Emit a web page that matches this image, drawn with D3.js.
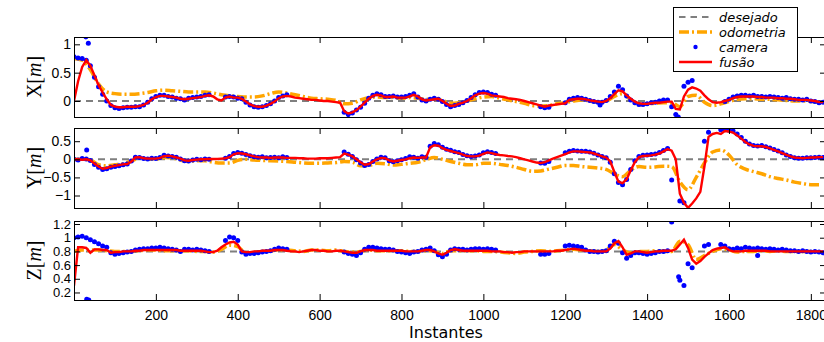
<!DOCTYPE html>
<html>
<head>
<meta charset="utf-8">
<script src="https://cdnjs.cloudflare.com/ajax/libs/d3/7.8.5/d3.min.js"></script>
<style>
  body { margin: 0; background: #fff; }
  svg { display: block; }
  .tick text { font-family: "Liberation Sans", Arial, sans-serif; font-size: 14px; fill: #000; }
  .yz .tick text { font-size: 13px; }
</style>
</head>
<body>
<script>
//////////////////////////////////////////////////////////////////////////////
// Data
// fusao / camera : one value every 10 instants (null = no camera frame)
// odometria      : one value every 20 instants
const _ = null;

let fusaoX = [
  0.0, 0.35, 0.6, 0.72, 0.62, 0.45, 0.28, 0.15, 0.03, -0.07,
  -0.1, -0.11, -0.11, -0.1, -0.1, -0.1, -0.09, -0.07, -0.03, 0.03,
  0.07, 0.09, 0.09, 0.08, 0.07, 0.06, 0.04, 0.03, 0.04, 0.05,
  0.06, 0.07, 0.09, 0.1, 0.08, 0.03, 0.01, 0.06, 0.08, 0.06,
  0.06, 0.04, -0.01, -0.06, -0.09, -0.1, -0.1, -0.08, -0.05, -0.01,
  0.05, 0.08, 0.09, 0.08, 0.06, 0.05, 0.04, 0.03, 0.02, 0.02,
  0.01, 0.0, 0.0, -0.01, -0.02, -0.03, -0.18, -0.22, -0.2, -0.16,
  -0.1, -0.03, 0.04, 0.09, 0.11, 0.1, 0.07, 0.07, 0.08, 0.06,
  0.06, 0.06, 0.08, 0.11, 0.08, 0.03, 0.01, 0.02, 0.03, 0.04,
  0.0, -0.05, -0.09, -0.08, -0.05, -0.03, 0.0, 0.05, 0.1, 0.13,
  0.14, 0.13, 0.1, 0.09, 0.08, 0.07, 0.05, 0.04, 0.03, 0.02,
  0.0, -0.02, -0.04, -0.06, -0.08, -0.1, -0.08, -0.07, -0.06, -0.05,
  -0.04, 0.02, 0.03, 0.04, 0.04, 0.03, 0.01, 0.0, -0.01, -0.02,
  0.0, 0.05, 0.12, 0.19, 0.17, 0.1, 0.04, -0.01, -0.04, -0.05,
  -0.05, -0.04, -0.03, -0.03, -0.02, -0.01, -0.01, -0.14, -0.15, 0.08,
  0.2, 0.24, 0.22, 0.18, 0.1, 0.03, -0.02, -0.03, -0.02, 0.0,
  0.02, 0.05, 0.07, 0.08, 0.08, 0.08, 0.08, 0.07, 0.07, 0.06,
  0.06, 0.06, 0.05, 0.05, 0.04, 0.04, 0.03, 0.02, 0.02, 0.02,
  0.01, 0.0, -0.02, -0.02
];
let cameraX = [
  0.78, 0.76, 0.75, 0.72, 0.62, 0.42, 0.25, 0.12, 0.0, -0.08,
  -0.12, -0.13, -0.12, -0.11, -0.11, -0.1, -0.1, -0.07, -0.02, 0.04,
  0.08, 0.1, 0.1, 0.08, 0.07, 0.05, 0.04, 0.02, 0.05, 0.06,
  0.07, 0.08, 0.1, 0.11, _, _, _, 0.07, 0.08, 0.07,
  0.05, 0.04, -0.02, -0.07, -0.1, -0.11, -0.1, -0.08, -0.05, 0.0,
  0.06, 0.09, 0.11, _, _, _, _, _, _, _,
  _, _, _, _, _, _, -0.2, -0.24, -0.21, -0.16,
  -0.11, -0.04, 0.05, 0.1, 0.13, 0.11, 0.08, 0.08, 0.09, 0.07,
  0.07, 0.08, 0.1, 0.13, 0.07, 0.02, 0.0, 0.03, 0.05, 0.03,
  -0.01, -0.06, -0.1, -0.08, -0.06, -0.03, 0.01, 0.06, 0.11, 0.15,
  0.16, 0.15, 0.12, 0.1, _, _, _, _, _, _,
  _, _, _, _, -0.1, -0.12, -0.11, _, _, _,
  -0.03, 0.03, 0.05, 0.06, 0.05, 0.03, 0.01, -0.01, -0.02, -0.02,
  0.01, 0.08, 0.16, 0.26, 0.2, 0.09, 0.02, -0.03, -0.06, -0.06,
  -0.05, -0.03, -0.02, 0.0, 0.02, 0.02, -0.1, -0.24, _, 0.26,
  0.33, 0.36, _, _, _, _, _, _, _, -0.01,
  0.03, 0.07, 0.09, 0.1, 0.1, 0.09, 0.1, 0.08, 0.08, 0.07,
  0.08, 0.07, 0.06, 0.05, 0.06, 0.04, 0.03, 0.03, 0.02, 0.03,
  0.0, -0.01, -0.03, -0.02
];
let cameraOutliersX = [[29, 1.13], [35, 1.02], [1476, -0.28], [1285, -0.07]];
let odometriaX = [
  0.75, 0.72, 0.55, 0.3, 0.16, 0.13, 0.12, 0.12, 0.13, 0.15,
  0.18, 0.19, 0.18, 0.17, 0.16, 0.16, 0.16, 0.14, 0.11, 0.09,
  0.08, 0.07, 0.07, 0.09, 0.13, 0.16, 0.14, 0.11, 0.08, 0.05,
  0.04, 0.03, 0.01, -0.05, -0.04, 0.02, 0.06, 0.07, 0.06, 0.06,
  0.05, 0.06, 0.05, 0.03, 0.03, 0.01, -0.04, -0.03, 0.0, 0.04,
  0.07, 0.08, 0.05, 0.02, -0.01, -0.04, -0.08, -0.09, -0.08, -0.05,
  -0.03, 0.0, 0.02, 0.0, -0.02, 0.0, 0.08, 0.13, 0.02, -0.07,
  -0.05, -0.04, -0.03, -0.03, -0.1, 0.08, 0.1, -0.02, -0.08, -0.05,
  -0.01, 0.03, 0.04, 0.04, 0.03, 0.03, 0.02, 0.01, 0.0, 0.0,
  -0.01, -0.02
];

let fusaoY = [
  0.0, 0.0, -0.01, 0.0, -0.03, -0.12, -0.2, -0.26, -0.24, -0.2,
  -0.18, -0.16, -0.14, -0.13, -0.06, 0.05, 0.06, 0.03, 0.02, 0.02,
  0.02, 0.04, 0.09, 0.1, 0.08, 0.05, 0.02, -0.03, -0.04, -0.02,
  -0.01, 0.0, 0.0, 0.01, 0.01, 0.01, 0.02, 0.03, 0.06, 0.14,
  0.17, 0.16, 0.14, 0.11, 0.08, 0.06, 0.05, 0.05, 0.04, 0.05,
  0.05, 0.05, 0.04, 0.04, 0.04, 0.03, 0.03, 0.02, 0.02, 0.02,
  0.03, 0.03, 0.03, 0.04, 0.05, 0.06, 0.16, 0.13, 0.08, 0.0,
  -0.08, -0.15, -0.13, -0.06, 0.0, 0.04, 0.03, -0.03, -0.06, -0.04,
  -0.02, 0.0, 0.03, 0.05, 0.04, 0.05, 0.05, 0.33, 0.39, 0.38,
  0.31, 0.26, 0.23, 0.2, 0.17, 0.13, 0.09, 0.08, 0.08, 0.1,
  0.15, 0.19, 0.17, 0.14, 0.12, 0.11, 0.09, 0.08, 0.06, 0.03,
  0.0, -0.03, -0.06, -0.09, -0.1, -0.08, -0.03, 0.02, 0.06, 0.1,
  0.14, 0.19, 0.22, 0.22, 0.21, 0.2, 0.19, 0.16, 0.12, 0.08,
  0.05, -0.06, -0.35, -0.62, -0.66, -0.55, -0.3, -0.08, 0.06, 0.09,
  0.1, 0.11, 0.13, 0.16, 0.22, 0.28, 0.24, 0.0, -0.95, -1.2,
  -1.34, -1.22, -1.08, -0.9, -0.2, 0.62, 0.7, 0.73, 0.7, 0.78,
  0.77, 0.74, 0.66, 0.57, 0.48, 0.41, 0.37, 0.36, 0.36, 0.34,
  0.3, 0.26, 0.22, 0.17, 0.12, 0.08, 0.05, 0.04, 0.03, 0.04,
  0.05, 0.05, 0.06, 0.06
];
let cameraY = [
  0.0, -0.02, 0.02, 0.01, -0.03, -0.14, -0.22, -0.28, -0.26, -0.22,
  -0.2, -0.18, -0.15, -0.13, -0.05, 0.06, 0.05, 0.02, 0.01, 0.03,
  0.02, 0.05, 0.11, 0.09, 0.08, 0.06, 0.01, -0.04, -0.05, -0.02,
  0.0, -0.01, 0.01, 0.0, _, _, _, 0.03, 0.08, 0.16,
  0.19, 0.17, 0.13, 0.1, 0.07, 0.06, 0.07, 0.04, 0.05, 0.06,
  0.04, 0.07, 0.05, _, _, _, _, _, _, _,
  _, _, _, _, _, _, 0.2, 0.14, 0.08, -0.01,
  -0.1, -0.17, -0.14, -0.06, 0.01, 0.06, 0.04, -0.04, -0.07, -0.04,
  -0.01, 0.02, 0.07, 0.06, 0.03, 0.07, 0.06, 0.36, 0.44, 0.4,
  0.33, 0.28, 0.25, 0.21, 0.19, 0.13, 0.1, 0.08, 0.09, 0.12,
  0.18, 0.21, 0.19, 0.16, _, _, _, _, _, _,
  _, _, _, _, -0.1, -0.11, -0.06, _, _, _,
  0.18, 0.22, 0.24, 0.23, 0.22, 0.22, 0.2, 0.17, 0.12, 0.08,
  0.04, -0.08, -0.4, -0.64, -0.7, -0.56, -0.28, -0.04, 0.08, 0.11,
  0.12, 0.13, 0.15, 0.19, 0.24, 0.3, -0.57, _, -1.15, -1.2,
  _, _, _, _, 0.5, 0.75, _, _, 0.82, 0.84,
  0.8, 0.78, 0.7, 0.6, 0.5, 0.42, 0.38, 0.37, 0.38, 0.35,
  0.31, 0.27, 0.23, 0.18, 0.12, 0.08, 0.04, 0.03, 0.03, 0.04,
  0.04, 0.05, 0.06, 0.05
];
let cameraOutliersY = [[31, 0.26]];
let odometriaY = [
  0.0, 0.0, -0.02, -0.15, -0.18, -0.15, -0.12, -0.05, 0.03, 0.01,
  0.0, 0.05, 0.04, -0.02, -0.06, -0.04, -0.04, -0.08, -0.1, -0.1,
  -0.03, 0.0, -0.02, -0.03, -0.04, -0.05, -0.06, -0.08, -0.1, -0.11,
  -0.11, -0.1, -0.09, -0.06, -0.08, -0.18, -0.17, -0.11, -0.12, -0.16,
  -0.14, -0.11, -0.08, -0.01, 0.05, 0.0, -0.06, -0.11, -0.15, -0.15,
  -0.11, -0.11, -0.14, -0.17, -0.22, -0.28, -0.33, -0.32, -0.27, -0.22,
  -0.17, -0.17, -0.2, -0.22, -0.24, -0.28, -0.4, -0.48, -0.3, -0.2,
  -0.22, -0.21, -0.19, -0.2, -0.62, -0.84, -0.5, -0.1, 0.2, 0.26,
  0.12, -0.15, -0.27, -0.34, -0.4, -0.48, -0.53, -0.57, -0.63, -0.67,
  -0.7, -0.7
];

let fusaoZ = [
  0.3, 0.86, 0.86, 0.85, 0.78, 0.83, 0.83, 0.82, 0.82, 0.78,
  0.79, 0.79, 0.8, 0.8, 0.8, 0.81, 0.81, 0.82, 0.82, 0.82,
  0.82, 0.82, 0.82, 0.82, 0.82, 0.82, 0.81, 0.81, 0.81, 0.81,
  0.81, 0.81, 0.8, 0.79, 0.79, 0.81, 0.86, 0.9, 0.93, 0.94,
  0.9, 0.8, 0.79, 0.79, 0.8, 0.8, 0.81, 0.81, 0.81, 0.82,
  0.82, 0.82, 0.81, 0.8, 0.8, 0.79, 0.8, 0.81, 0.82, 0.82,
  0.81, 0.81, 0.8, 0.8, 0.81, 0.81, 0.8, 0.79, 0.78, 0.78,
  0.8, 0.82, 0.82, 0.82, 0.81, 0.81, 0.81, 0.81, 0.81, 0.81,
  0.81, 0.8, 0.8, 0.8, 0.8, 0.81, 0.82, 0.82, 0.8, 0.77,
  0.75, 0.78, 0.82, 0.83, 0.82, 0.81, 0.81, 0.81, 0.81, 0.81,
  0.81, 0.81, 0.8, 0.8, 0.8, 0.79, 0.79, 0.78, 0.79, 0.79,
  0.8, 0.8, 0.8, 0.8, 0.8, 0.8, 0.8, 0.8, 0.81, 0.81,
  0.82, 0.83, 0.84, 0.83, 0.82, 0.81, 0.81, 0.8, 0.8, 0.8,
  0.8, 0.84, 0.92, 0.95, 0.86, 0.75, 0.77, 0.8, 0.8, 0.79,
  0.78, 0.79, 0.8, 0.8, 0.81, 0.81, 0.81, 0.83, 0.9, 0.97,
  0.85, 0.68, 0.62, 0.66, 0.72, 0.77, 0.82, 0.84, 0.85, 0.86,
  0.82, 0.8, 0.8, 0.8, 0.81, 0.81, 0.81, 0.81, 0.81, 0.81,
  0.8, 0.8, 0.8, 0.8, 0.8, 0.8, 0.8, 0.8, 0.8, 0.8,
  0.8, 0.8, 0.8, 0.8
];
let cameraZ = [
  1.0, 1.01, 1.02, 1.0, 0.97, 0.94, 0.91, 0.88, 0.86, 0.78,
  0.76, 0.77, 0.78, 0.79, 0.8, 0.82, 0.83, 0.84, 0.84, 0.85,
  0.85, 0.86, 0.85, 0.84, 0.83, 0.82, 0.8, 0.83, 0.83, 0.82,
  0.83, 0.82, 0.81, 0.8, _, _, _, 0.96, 1.01, 1.0,
  0.96, 0.79, 0.76, 0.77, 0.77, 0.78, 0.79, 0.8, 0.81, 0.83,
  0.85, 0.84, 0.83, _, _, _, _, _, _, _,
  _, _, _, _, _, _, 0.79, 0.77, 0.76, 0.74,
  0.78, 0.83, 0.86, 0.86, 0.85, 0.84, 0.83, 0.83, 0.82, 0.8,
  0.79, 0.78, 0.77, 0.79, 0.8, 0.82, 0.83, 0.85, 0.81, 0.75,
  0.72, 0.76, 0.82, 0.84, 0.83, 0.83, 0.82, 0.83, 0.84, 0.84,
  0.83, 0.84, 0.83, 0.82, _, _, _, _, _, _,
  _, _, _, _, 0.76, 0.76, 0.77, _, _, _,
  0.88, 0.89, 0.88, 0.87, 0.86, 0.82, 0.8, 0.8, 0.79, 0.8,
  0.81, 0.88, 0.95, 0.92, 0.78, 0.7, 0.74, 0.78, 0.78, 0.77,
  0.76, 0.77, 0.78, 0.8, 0.8, 0.81, 1.23, _, 0.38, 0.3,
  0.62, 0.56, _, _, 0.88, 0.9, _, _, 0.9, 0.88,
  0.84, 0.83, 0.85, 0.84, 0.86, 0.85, 0.84, 0.85, 0.84, 0.83,
  0.84, 0.83, 0.82, 0.83, 0.82, 0.81, 0.81, 0.8, 0.81, 0.8,
  0.79, 0.8, 0.79, 0.78
];
let cameraOutliersZ = [[31, 0.1], [36, 0.09], [1477, 0.43], [1670, 0.74]];
let odometriaZ = [
  0.8, 0.82, 0.82, 0.82, 0.81, 0.8, 0.8, 0.8, 0.81, 0.82,
  0.82, 0.81, 0.81, 0.81, 0.81, 0.8, 0.8, 0.79, 0.83, 0.89,
  0.87, 0.78, 0.78, 0.8, 0.81, 0.82, 0.82, 0.81, 0.8, 0.82,
  0.82, 0.81, 0.82, 0.8, 0.79, 0.8, 0.82, 0.81, 0.81, 0.81,
  0.81, 0.8, 0.8, 0.81, 0.8, 0.77, 0.81, 0.81, 0.81, 0.81,
  0.8, 0.8, 0.79, 0.78, 0.77, 0.79, 0.8, 0.81, 0.8, 0.81,
  0.82, 0.83, 0.82, 0.81, 0.8, 0.82, 0.9, 0.82, 0.78, 0.8,
  0.8, 0.81, 0.8, 0.8, 0.95, 0.9, 0.68, 0.74, 0.8, 0.84,
  0.82, 0.79, 0.8, 0.8, 0.81, 0.8, 0.81, 0.8, 0.8, 0.8,
  0.8, 0.8
];

// desired values (constant) for X, Y, Z
let desejado = [0, 0, 0.8];

// tick labels
let ticksInstantes = [200, 400, 600, 800, 1000, 1200, 1400, 1600, 1800];
let ticksX = [0, 0.5, 1];
let ticksY = [-1, -0.5, 0, 0.5];
let ticksZ = [0.2, 0.4, 0.6, 0.8, 1, 1.2];

let legendLabels = ["desejado", "odometria", "camera", "fusão"];

//////////////////////////////////////////////////////////////////////////////
// Layout
let width = 824;
let height = 342;
let left = 74, right = 826;
let stepFusao = 10, stepOdo = 20;

let svg = d3.select("body").append("svg")
  .attr("width", width)
  .attr("height", height);

let x = d3.scaleLinear()
  .domain([0, 1837])
  .range([left, right]);

let panels = [
  { letter: "X", top: 37, bottom: 117, domain: [-0.282, 1.129], ticks: ticksX,
    fusao: fusaoX, camera: cameraX, outliers: cameraOutliersX, odometria: odometriaX, ref: desejado[0] },
  { letter: "Y", top: 128, bottom: 208, domain: [-1.345, 0.865], ticks: ticksY,
    fusao: fusaoY, camera: cameraY, outliers: cameraOutliersY, odometria: odometriaY, ref: desejado[1] },
  { letter: "Z", top: 221, bottom: 300, domain: [0.09, 1.244], ticks: ticksZ,
    fusao: fusaoZ, camera: cameraZ, outliers: cameraOutliersZ, odometria: odometriaZ, ref: desejado[2] }
];

let colors = { desejado: "#7f7f7f", odometria: "#ffa500", camera: "#0000ff", fusao: "#ff0000" };

panels.forEach(function (p, k) {
  let y = d3.scaleLinear()
    .domain(p.domain)
    .range([p.bottom, p.top]);

  svg.append("clipPath")
    .attr("id", "clip" + k)
    .append("rect")
    .attr("x", left)
    .attr("y", p.top)
    .attr("width", right - left)
    .attr("height", p.bottom - p.top);

  let plot = svg.append("g").attr("clip-path", `url(#clip${k})`);

  // desejado
  plot.append("line")
    .attr("x1", x(0))
    .attr("x2", x(1837))
    .attr("y1", y(p.ref))
    .attr("y2", y(p.ref))
    .attr("stroke", colors.desejado)
    .attr("stroke-width", 2)
    .attr("stroke-dasharray", "7,5");

  // odometria
  plot.append("path")
    .datum(p.odometria)
    .attr("fill", "none")
    .attr("stroke", colors.odometria)
    .attr("stroke-width", 3.5)
    .attr("stroke-dasharray", "10,3,2,3")
    .attr("d", d3.line()
      .x((d, i) => x(i * stepOdo))
      .y(d => y(d))
      .curve(d3.curveMonotoneX));

  // camera
  let pts = p.camera
    .map((v, i) => [i * stepFusao, v])
    .filter(d => d[1] !== null)
    .concat(p.outliers);

  plot.selectAll("circle")
    .data(pts)
    .join("circle")
    .attr("cx", d => x(d[0]))
    .attr("cy", d => y(d[1]))
    .attr("r", 2.5)
    .attr("fill", colors.camera);

  // fusao
  plot.append("path")
    .datum(p.fusao)
    .attr("fill", "none")
    .attr("stroke", colors.fusao)
    .attr("stroke-width", 2.4)
    .attr("d", d3.line()
      .x((d, i) => x(i * stepFusao))
      .y(d => y(d)));

  // axes, ticks pointing inwards on all 4 sides
  let fmt = d3.format("~g");
  svg.append("g")
    .attr("class", k == 2 ? "yz" : "")
    .attr("transform", `translate(${left},0)`)
    .call(d3.axisLeft(y).tickValues(p.ticks).tickSize(-6).tickPadding(3).tickFormat(fmt))
    .call(g => g.select(".domain").remove());
  svg.append("g")
    .attr("transform", `translate(${right},0)`)
    .call(d3.axisRight(y).tickValues(p.ticks).tickSize(-6).tickFormat(""))
    .call(g => g.select(".domain").remove());
  svg.append("g")
    .attr("transform", `translate(0,${p.top})`)
    .call(d3.axisTop(x).tickValues(ticksInstantes).tickSize(-6).tickFormat(""))
    .call(g => g.select(".domain").remove());
  svg.append("g")
    .attr("transform", `translate(0,${p.bottom})`)
    .call(d3.axisBottom(x).tickValues(ticksInstantes).tickSize(-6).tickPadding(10)
      .tickFormat(k == 2 ? d3.format("d") : ""))
    .call(g => g.select(".domain").remove());

  svg.append("rect")
    .attr("x", left + 0.5)
    .attr("y", p.top + 0.5)
    .attr("width", right - left)
    .attr("height", p.bottom - p.top)
    .attr("fill", "none")
    .attr("stroke", "#000")
    .attr("stroke-width", 1);

  // y label, LaTeX-like "X[m]"
  let lab = svg.append("text")
    .attr("transform", `translate(34,${(p.top + p.bottom) / 2}) rotate(-90)`)
    .attr("text-anchor", "middle")
    .attr("dy", "0.35em")
    .style("font-family", "'Liberation Serif', 'DejaVu Serif', serif")
    .style("font-size", "20px");
  lab.append("tspan").text(p.letter + "[");
  lab.append("tspan").style("font-style", "italic").text("m");
  lab.append("tspan").text("]");
});

// x label
svg.append("text")
  .attr("x", 446)
  .attr("y", 338)
  .attr("text-anchor", "middle")
  .style("font-family", "'DejaVu Sans', sans-serif")
  .style("font-size", "16px")
  .text("Instantes");

//////////////////////////////////////////////////////////////////////////////
// Legend
let lg = svg.append("g");
lg.append("rect")
  .attr("x", 673.5)
  .attr("y", 7.5)
  .attr("width", 124)
  .attr("height", 64)
  .attr("fill", "#fff")
  .attr("stroke", "#000");

let rowY = [17, 32, 47, 62];
let item = lg.selectAll(".item")
  .data(legendLabels)
  .join("g")
  .attr("transform", (d, i) => `translate(0,${rowY[i]})`);

item.each(function (d, i) {
  let g = d3.select(this);
  if (i == 0 || i == 1 || i == 3) {
    g.append("line")
      .attr("x1", 679).attr("x2", 712)
      .attr("stroke", [colors.desejado, colors.odometria, null, colors.fusao][i])
      .attr("stroke-width", [2, 3.5, 0, 2.5][i])
      .attr("stroke-dasharray", i == 0 ? "6.5,5" : (i == 1 ? "10,3,2,3" : null));
  } else {
    g.append("circle")
      .attr("cx", 695.5).attr("r", 2.2)
      .attr("fill", colors.camera);
  }
  g.append("text")
    .attr("x", 719)
    .attr("dy", "0.35em")
    .style("font-family", "'DejaVu Sans', sans-serif")
    .style("font-style", "italic")
    .style("font-size", "13px")
    .text(d);
});
</script>
</body>
</html>
